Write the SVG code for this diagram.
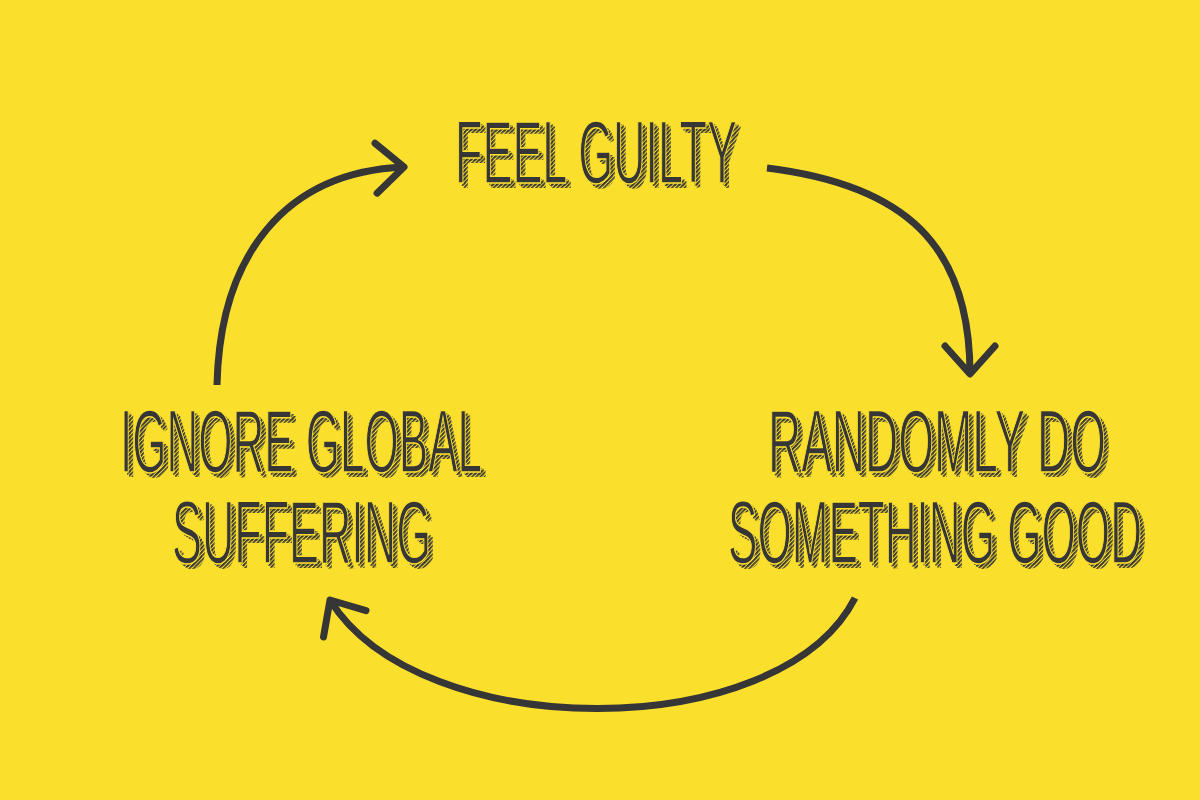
<svg xmlns="http://www.w3.org/2000/svg" xmlns:xlink="http://www.w3.org/1999/xlink" width="1200" height="800" viewBox="0 0 1200 800">
<defs>
<pattern id="hatch" patternUnits="userSpaceOnUse" width="3" height="3" patternTransform="rotate(45)">
<rect width="1.6" height="3" fill="#363636"/>
</pattern>
<marker id="head" viewBox="0 0 40 60" refX="33" refY="30" markerWidth="40" markerHeight="60" markerUnits="userSpaceOnUse" orient="auto">
<path d="M5 5 L33 30 L5 55" fill="none" stroke="#363636" stroke-width="7" stroke-linecap="round" stroke-linejoin="round"/>
</marker>
</defs>
<style>
.t{font-family:"Liberation Sans","DejaVu Sans",sans-serif;font-size:89px}
.ink{fill:#363636;stroke:#FBDF2D;stroke-width:1.6}
.sh{fill:url(#hatch);stroke:none}
.c{fill:none;stroke:#363636;stroke-width:7}
</style>
<rect width="1200" height="800" fill="#FBDF2D"/>

<g id="connectors">
<path class="c" d="M217 385 C220 255 285 172 404 167" marker-end="url(#head)"/>
<path class="c" d="M767 168 C905 185 970 245 970 374" marker-end="url(#head)"/>
<path class="c" d="M855 598 C780 745 420 745 330 600" marker-end="url(#head)"/>
</g>

<g id="node-feel-guilty">
<use class="sh" xlink:href="#t1" href="#t1" x="5" y="5"/>
<use class="sh" xlink:href="#t1" href="#t1" x="3" y="3"/>
<g class="ink"><text id="t1" class="t" x="455" y="183" textLength="282" lengthAdjust="spacingAndGlyphs">FEEL GUILTY</text></g>
</g>

<g id="node-ignore">
<use class="sh" xlink:href="#t2" href="#t2" x="5" y="5"/>
<use class="sh" xlink:href="#t2" href="#t2" x="3" y="3"/>
<use class="sh" xlink:href="#t3" href="#t3" x="5" y="5"/>
<use class="sh" xlink:href="#t3" href="#t3" x="3" y="3"/>
<g class="ink">
<text id="t2" class="t" x="120" y="472" textLength="362" lengthAdjust="spacingAndGlyphs">IGNORE GLOBAL</text>
<text id="t3" class="t" x="172" y="563" textLength="259" lengthAdjust="spacingAndGlyphs">SUFFERING</text>
</g>
</g>

<g id="node-randomly">
<use class="sh" xlink:href="#t4" href="#t4" x="5" y="5"/>
<use class="sh" xlink:href="#t4" href="#t4" x="3" y="3"/>
<use class="sh" xlink:href="#t5" href="#t5" x="5" y="5"/>
<use class="sh" xlink:href="#t5" href="#t5" x="3" y="3"/>
<g class="ink">
<text id="t4" class="t" x="768" y="472" textLength="338" lengthAdjust="spacingAndGlyphs">RANDOMLY DO</text>
<text id="t5" class="t" x="728" y="563" textLength="414" lengthAdjust="spacingAndGlyphs">SOMETHING GOOD</text>
</g>
</g>
</svg>
